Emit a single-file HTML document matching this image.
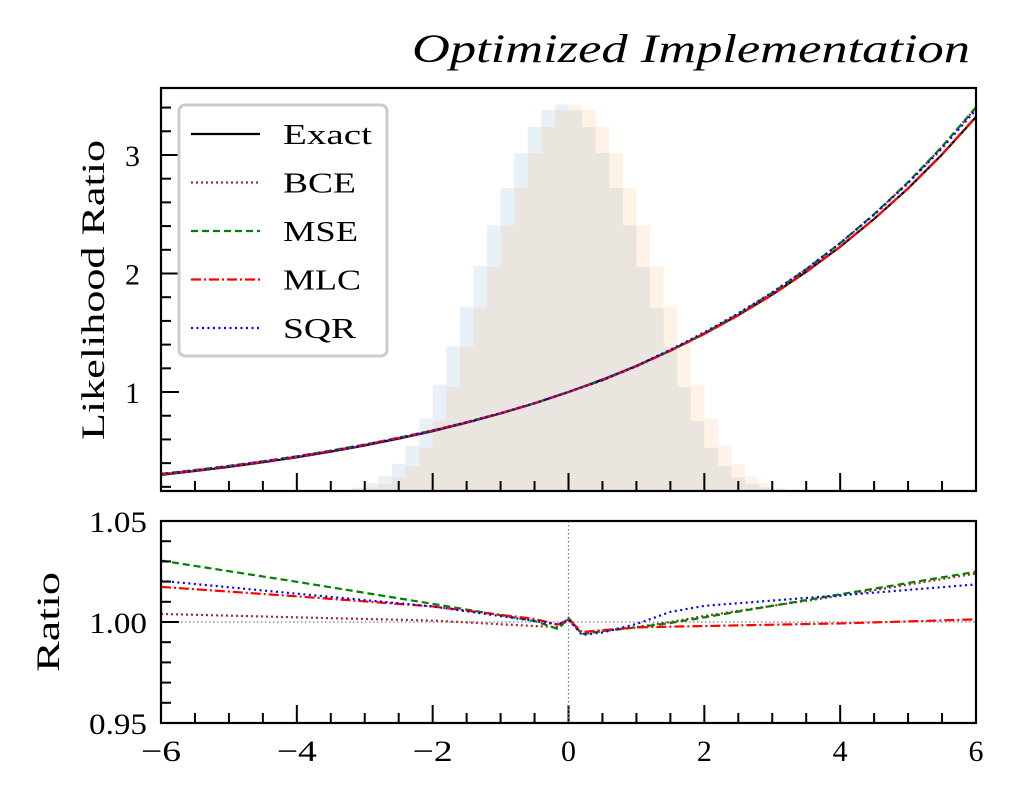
<!DOCTYPE html>
<html><head><meta charset="utf-8">
<style>
html,body{margin:0;padding:0;background:#fff;}
svg{display:block;font-family:"Liberation Serif",serif;}
</style></head>
<body>
<svg id="chart" width="1019" height="797" viewBox="0 0 1019 797" xmlns="http://www.w3.org/2000/svg">
<text x="412" y="62" font-size="40" font-style="italic" textLength="558" lengthAdjust="spacingAndGlyphs">Optimized Implementation</text>
<text transform="translate(104,290) rotate(-90)" text-anchor="middle" font-size="33" textLength="300" lengthAdjust="spacingAndGlyphs">Likelihood Ratio</text>
<text transform="translate(59,622) rotate(-90)" text-anchor="middle" font-size="33" textLength="100" lengthAdjust="spacingAndGlyphs">Ratio</text>
<g id="topPanel"></g>
<g id="bottomPanel"></g>
</svg>
<script>
const histCenters = [-3.1,-2.9,-2.7,-2.5,-2.3,-2.1,-1.9,-1.7,-1.5,-1.3,-1.1,-0.9,-0.7,-0.5,-0.3,-0.1,0.1,0.3,0.5,0.7,0.9,1.1,1.3,1.5,1.7,1.9,2.1,2.3,2.5,2.7,2.9,3.1];
const histBlue = [0.03,0.07,0.13,0.24,0.40,0.64,0.94,1.28,1.63,1.99,2.35,2.68,2.99,3.22,3.37,3.42,3.37,3.22,2.99,2.68,2.35,1.98,1.62,1.27,0.92,0.62,0.38,0.22,0.12,0.06,0.03,0.01];
const histOrange = [0.01,0.03,0.06,0.12,0.22,0.38,0.62,0.92,1.27,1.62,1.98,2.35,2.68,2.99,3.22,3.37,3.42,3.37,3.22,2.99,2.68,2.35,1.99,1.63,1.28,0.94,0.64,0.40,0.24,0.13,0.07,0.03];
const exactX = [-6,-5.5,-5,-4.5,-4,-3.5,-3,-2.5,-2,-1.5,-1,-0.5,0,0.5,1,1.5,2,2.5,3,3.5,4,4.5,5,5.5,6];
const exactY = [0.301,0.333,0.368,0.407,0.449,0.497,0.549,0.607,0.670,0.741,0.819,0.905,1,1.105,1.221,1.350,1.492,1.649,1.822,2.014,2.226,2.460,2.718,3.004,3.320];
const ratioX = [-6,-4,-2,-0.5,-0.15,0,0.2,0.5,1,1.5,2,4,6];
const ratioMSE = [1.0304,1.0199,1.009,1.0005,0.9965,1.002,0.994,0.9955,0.9973,0.9995,1.0023,1.0137,1.0249];
const ratioSQR = [1.0204,1.014,1.0077,1.0005,0.9987,1.0013,0.9936,0.9948,0.999,1.005,1.008,1.0132,1.0186];
const ratioMLC = [1.0174,1.0127,1.0077,1.0015,0.9987,1.0013,0.995,0.996,0.9973,0.9977,0.998,0.9993,1.0013];
const ratioBCE = [1.004,1.0023,1.0007,0.998,0.9975,1.001,0.994,0.9955,0.9975,1.0,1.003,1.013,1.024];
const xTicks = [-6,-4,-2,0,2,4,6];
const xTickLabels = ["\u22126","\u22124","\u22122","0","2","4","6"];
const topYTicks = [1,2,3];
const botYTicks = [0.95,1.00,1.05];
const botYTickLabels = ["0.95","1.00","1.05"];

const NS="http://www.w3.org/2000/svg";
const L=161,R=976,T1=88,B1=491,T2=521,B2=723;
const sx=x=>L+(x+6)/12*(R-L);
const syTop=v=>B1-(v-0.165)/(3.565-0.165)*(B1-T1);
const syHist=h=>B1-h/3.565*(B1-T1);
const syBot=v=>B2-(v-0.95)/0.1*(B2-T2);
function mk(tag,attrs,parent){const e=document.createElementNS(NS,tag);for(const k in attrs)e.setAttribute(k,attrs[k]);parent.appendChild(e);return e;}
function interp(xs,ys,x){if(x<=xs[0])return ys[0];for(let i=1;i<xs.length;i++){if(x<=xs[i]){const t=(x-xs[i-1])/(xs[i]-xs[i-1]);return ys[i-1]+t*(ys[i]-ys[i-1]);}}return ys[ys.length-1];}
const topG=document.getElementById('topPanel'), botG=document.getElementById('bottomPanel');

const defs=mk('defs',{},document.getElementById('chart'));
const c1=mk('clipPath',{id:'c1'},defs);mk('rect',{x:L,y:T1,width:R-L,height:B1-T1},c1);
const c2=mk('clipPath',{id:'c2'},defs);mk('rect',{x:L,y:T2,width:R-L,height:B2-T2},c2);

function hist(vals,color,name){
  let d='M'+sx(histCenters[0]-0.1)+','+B1;
  histCenters.forEach((c,i)=>{d+=' L'+sx(c-0.1)+','+syHist(vals[i])+' L'+sx(c+0.1)+','+syHist(vals[i]);});
  d+=' L'+sx(histCenters[histCenters.length-1]+0.1)+','+B1+' Z';
  const p=mk('path',{d:d,fill:color,'fill-opacity':0.1,stroke:'none'},topG);
  
  
}
hist(histBlue,'#1f77b4','histogram-class-0');
hist(histOrange,'#ff7f0e','histogram-class-1');

function topLine(ratio,color,dash,name,w){
  const pts=exactX.map((x,i)=>sx(x)+','+syTop(ratio?exactY[i]*interp(ratioX,ratio,x):exactY[i]));
  const p=mk('polyline',{points:pts.join(' '),fill:'none',stroke:color,'stroke-width':w,'stroke-dasharray':dash,'clip-path':'url(#c1)'},topG);
  
  
}
topLine(null,'#000','none','exact-line',2.2);
topLine(ratioBCE,'#a52a2a','2,3','bce-line',2.2);
topLine(ratioMSE,'#008000','7,4','mse-line',2.2);
topLine(ratioMLC,'#ff0000','10,3,2,3','mlc-line',2.2);
topLine(ratioSQR,'#0000ff','2,3.5','sqr-line',2.2);

const f1=mk('rect',{x:L,y:T1,width:R-L,height:B1-T1,fill:'none',stroke:'#000','stroke-width':2.2},topG);


for(let k=1;k<=17;k++){const v=k*0.2;const y=syTop(v);if(y<T1||y>B1)continue;const major=(k%5===0);mk('line',{x1:L,x2:L+(major?18:10),y1:y,y2:y,stroke:'#000','stroke-width':2},topG);}
topYTicks.forEach(t=>{const e=mk('text',{x:L-21,y:syTop(t)+11,'text-anchor':'end','font-size':30,textLength:15,lengthAdjust:'spacingAndGlyphs'},topG);e.textContent=t;
  
  });
for(let k=0;k<=24;k++){const x=-6+k*0.5;const major=(k%4===0);
  mk('line',{x1:sx(x),x2:sx(x),y1:B1,y2:B1-(major?18:10),stroke:'#000','stroke-width':2},topG);
  mk('line',{x1:sx(x),x2:sx(x),y1:B2,y2:B2-(major?18:10),stroke:'#000','stroke-width':2},botG);}

const lg=mk('g',{},topG);


mk('rect',{x:179,y:105,width:208,height:251,rx:6,fill:'#fff','fill-opacity':0.8,stroke:'#ccc','stroke-width':3},lg);
const leg=[['Exact','#000','none',89],['BCE','#a52a2a','2,3',73],['MSE','#008000','7,4',75],['MLC','#ff0000','10,3,2,3',78],['SQR','#0000ff','2,3.5',73]];
leg.forEach((e,i)=>{const y=134+i*48.5;
  const ln=mk('line',{x1:191,x2:260,y1:y,y2:y,stroke:e[1],'stroke-width':2.2,'stroke-dasharray':e[2]},lg);
  
  
  const t=mk('text',{x:283,y:y+10,'font-size':28,textLength:e[3],lengthAdjust:'spacingAndGlyphs'},lg);t.textContent=e[0];
  
  });

mk('line',{x1:L,x2:R,y1:syBot(1),y2:syBot(1),stroke:'#808080','stroke-width':1.3,'stroke-dasharray':'1.5,2.5'},botG);
mk('line',{x1:sx(0),x2:sx(0),y1:T2,y2:B2,stroke:'#808080','stroke-width':1.3,'stroke-dasharray':'1.5,2.5'},botG);
function botLine(ratio,color,dash,name){
  const pts=ratioX.map((x,i)=>sx(x)+','+syBot(ratio[i]));
  const p=mk('polyline',{points:pts.join(' '),fill:'none',stroke:color,'stroke-width':2.2,'stroke-dasharray':dash,'clip-path':'url(#c2)'},botG);
  
  
}
botLine(ratioBCE,'#a52a2a','2,3','bce-ratio-line');
botLine(ratioMSE,'#008000','7,4','mse-ratio-line');
botLine(ratioMLC,'#ff0000','10,3,2,3','mlc-ratio-line');
botLine(ratioSQR,'#0000ff','2,3.5','sqr-ratio-line');
const f2=mk('rect',{x:L,y:T2,width:R-L,height:B2-T2,fill:'none',stroke:'#000','stroke-width':2.2},botG);


for(let k=0;k<=10;k++){const v=0.95+k*0.01;const major=k%5===0;mk('line',{x1:L,x2:L+(major?18:10),y1:syBot(v),y2:syBot(v),stroke:'#000','stroke-width':2},botG);}
botYTicks.forEach((t,i)=>{const e=mk('text',{x:L-14,y:syBot(t)+11,'text-anchor':'end','font-size':30,textLength:58,lengthAdjust:'spacingAndGlyphs'},botG);e.textContent=botYTickLabels[i];
  
  });
xTicks.forEach((t,i)=>{const e=mk('text',{x:sx(t),y:761,'text-anchor':'middle','font-size':30,textLength:(t<0?40:15),lengthAdjust:'spacingAndGlyphs'},botG);e.textContent=xTickLabels[i];
  
  });
</script>
</body></html>
